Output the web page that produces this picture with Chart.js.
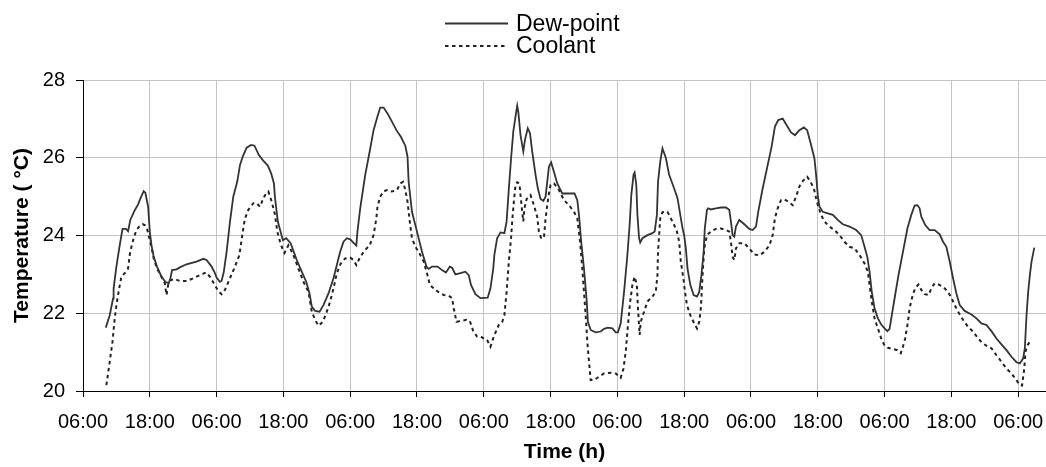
<!DOCTYPE html>
<html>
<head>
<meta charset="utf-8">
<title>Dew-point and coolant temperature</title>
<script src="https://cdn.jsdelivr.net/npm/chart.js@4.4.1/dist/chart.umd.min.js"></script>
<style>
  html, body { margin: 0; padding: 0; background: #fff; }
  #wrap { width: 1046px; height: 467px; }
</style>
</head>
<body>
<div id="wrap"><canvas id="myChart" width="1046" height="467"></canvas></div>
<script>
// series names
const seriesNames = ['Dew-point', 'Coolant'];

// x tick labels, one every 12 h starting 06:00 on day one
const timeLabels = ['06:00', '18:00', '06:00', '18:00', '06:00', '18:00', '06:00', '18:00',
                    '06:00', '18:00', '06:00', '18:00', '06:00', '18:00', '06:00'];

// [hours since first 06:00, temperature in °C]
const dewPoint = [
  [4.1,21.63],[4.8,21.95],[5.4,22.38],[5.5,22.64],[6.0,23.2],[6.6,23.75],[7.1,24.17],[7.7,24.17],
  [8.1,24.11],[8.5,24.4],[9.3,24.65],[9.9,24.8],[10.3,24.95],[10.9,25.14],[11.2,25.1],[11.7,24.74],
  [12.0,24.1],[12.3,23.75],[12.7,23.45],[13.3,23.2],[14.1,22.94],[14.8,22.81],[15.4,22.77],[15.7,22.9],
  [16.0,23.11],[16.8,23.13],[17.4,23.18],[18.6,23.26],[20.4,23.33],[21.6,23.4],[22.2,23.37],[23.1,23.2],
  [23.7,23.03],[24.0,22.92],[24.6,22.81],[24.9,22.83],[25.3,23.07],[25.8,23.58],[26.4,24.35],[27.0,25.0],
  [27.7,25.38],[28.2,25.81],[28.7,26.03],[29.4,26.26],[30.2,26.33],[30.8,26.31],[31.6,26.07],[32.3,25.94],
  [33.2,25.8],[33.8,25.6],[34.3,25.34],[34.5,24.96],[35.0,24.36],[35.9,23.88],[36.5,23.93],[37.3,23.8],
  [38.4,23.37],[39.3,23.07],[40.1,22.81],[40.7,22.51],[41.1,22.17],[41.7,22.06],[42.5,22.04],[43.2,22.21],
  [44.1,22.51],[45.0,22.9],[45.6,23.24],[46.2,23.58],[46.8,23.84],[47.4,23.93],[48.0,23.9],[48.6,23.81],
  [49.1,23.74],[49.3,24.1],[49.8,24.7],[50.7,25.56],[51.5,26.16],[52.2,26.71],[52.9,27.06],[53.4,27.29],
  [54.0,27.29],[54.7,27.14],[55.5,26.93],[56.3,26.71],[57.1,26.54],[57.9,26.31],[58.3,26.03],[58.5,25.38],
  [59.1,24.61],[60.0,24.1],[60.9,23.58],[61.7,23.2],[62.1,23.14],[62.7,23.2],[63.7,23.2],[64.5,23.11],
  [65.2,23.05],[65.9,23.2],[66.3,23.17],[66.9,23.0],[67.8,23.03],[68.7,23.07],[69.3,22.98],[69.7,22.73],
  [70.5,22.49],[71.4,22.39],[72.7,22.4],[73.2,22.64],[73.7,23.15],[73.9,23.5],[74.4,23.93],[75.0,24.08],
  [75.7,24.06],[76.1,24.36],[76.5,25.2],[76.9,25.98],[77.3,26.67],[77.7,27.06],[78.0,27.34],[78.2,27.18],
  [78.6,26.58],[79.1,26.16],[79.4,26.46],[79.9,26.76],[80.3,26.63],[80.7,26.16],[81.3,25.56],[81.7,25.22],
  [82.2,24.94],[82.7,24.89],[83.1,25.0],[83.4,25.38],[83.7,25.77],[84.1,25.88],[84.6,25.64],[85.2,25.34],
  [86.1,25.08],[87.3,25.08],[88.3,25.08],[88.8,24.91],[89.1,24.53],[89.5,23.84],[90.0,23.15],[90.5,22.3],
  [90.7,21.78],[91.2,21.57],[92.1,21.51],[93.0,21.53],[93.6,21.6],[94.3,21.63],[95.1,21.61],[95.7,21.51],
  [96.1,21.51],[96.6,21.74],[97.2,22.55],[97.8,23.5],[98.2,24.27],[98.5,25.04],[98.9,25.56],[99.1,25.62],
  [99.4,25.3],[99.6,24.53],[99.9,23.93],[100.1,23.82],[100.5,23.93],[101.4,24.01],[102.3,24.06],[102.7,24.1],
  [103.1,24.53],[103.3,25.38],[103.7,25.9],[104.1,26.24],[104.3,26.16],[104.7,26.0],[105.3,25.56],[106.2,25.21],
  [106.8,24.96],[107.3,24.53],[107.7,24.19],[108.0,24.0],[108.3,23.67],[108.6,23.15],[109.1,22.73],[109.7,22.47],
  [110.3,22.43],[110.7,22.55],[111.1,22.98],[111.5,23.58],[111.7,24.18],[112.1,24.66],[112.3,24.7],[112.8,24.67],
  [113.7,24.7],[114.6,24.72],[115.5,24.72],[116.1,24.66],[116.4,24.36],[116.7,24.01],[117.0,23.97],[117.3,24.23],
  [117.9,24.4],[118.8,24.29],[119.7,24.17],[120.3,24.14],[120.9,24.23],[121.3,24.61],[122.1,25.21],[123.0,25.81],
  [123.7,26.28],[124.3,26.8],[124.9,26.97],[125.7,27.01],[126.3,26.86],[127.2,26.65],[127.9,26.58],[128.7,26.71],
  [129.5,26.78],[130.1,26.71],[130.8,26.33],[131.4,25.98],[131.7,25.56],[132.0,25.04],[132.3,24.74],[132.9,24.61],
  [133.8,24.57],[134.7,24.53],[135.6,24.4],[136.5,24.29],[137.7,24.23],[138.9,24.14],[139.8,24.01],[140.4,23.71],
  [140.9,23.45],[141.3,23.07],[141.7,22.55],[142.2,22.13],[142.8,21.87],[143.4,21.71],[144.0,21.61],[144.5,21.54],
  [144.9,21.6],[145.3,21.95],[145.9,22.47],[146.5,22.98],[147.3,23.58],[148.1,24.18],[148.8,24.53],[149.4,24.77],
  [149.9,24.78],[150.3,24.7],[150.6,24.48],[151.3,24.27],[152.1,24.14],[153.0,24.14],[153.9,24.03],[154.5,23.84],
  [155.1,23.71],[155.7,23.33],[156.3,22.9],[156.9,22.51],[157.5,22.21],[158.4,22.06],[159.6,21.97],[160.5,21.87],
  [161.4,21.74],[162.3,21.7],[163.2,21.54],[164.1,21.35],[165.0,21.2],[165.9,21.05],[166.8,20.88],[167.7,20.74],
  [168.3,20.71],[168.9,20.84],[169.2,21.1],[169.5,21.95],[169.8,22.55],[170.1,22.98],[170.4,23.33],[170.9,23.69]
];

const coolant = [
  [4.2,20.15],[4.8,20.75],[5.3,21.27],[5.7,21.87],[6.0,22.21],[6.5,22.64],[6.9,22.94],[7.5,23.03],
  [8.1,23.15],[8.4,23.5],[8.7,23.71],[9.1,23.93],[9.6,24.14],[10.1,24.23],[10.7,24.29],[11.1,24.27],
  [11.5,24.18],[11.9,23.94],[12.3,23.71],[12.7,23.41],[13.3,23.15],[14.1,22.94],[14.7,22.77],[15.0,22.47],
  [15.3,22.73],[15.7,22.85],[16.5,22.88],[17.4,22.83],[18.6,22.83],[19.5,22.88],[20.4,22.94],[21.3,23.0],
  [22.1,23.05],[22.8,22.94],[23.5,22.77],[24.3,22.57],[24.9,22.49],[25.5,22.6],[26.4,22.9],[27.3,23.2],
  [28.1,23.5],[28.7,24.1],[29.1,24.44],[29.7,24.66],[30.6,24.83],[31.2,24.83],[31.8,24.74],[32.4,24.96],
  [32.9,25.08],[33.3,25.13],[33.9,24.87],[34.5,24.53],[34.9,24.1],[35.4,23.84],[35.8,23.67],[36.2,23.55],
  [36.9,23.75],[37.8,23.5],[38.7,23.15],[39.6,22.81],[40.5,22.55],[41.1,22.04],[41.7,21.83],[42.3,21.68],
  [43.1,21.78],[43.7,22.0],[44.4,22.3],[45.0,22.64],[45.6,23.03],[46.3,23.28],[47.1,23.41],[48.0,23.43],
  [48.6,23.37],[49.1,23.24],[49.8,23.45],[50.7,23.63],[51.5,23.75],[52.2,24.01],[52.7,24.44],[52.9,24.74],
  [53.4,25.0],[54.0,25.14],[54.7,25.17],[55.5,25.13],[56.4,25.17],[57.0,25.34],[57.5,25.38],[57.9,25.17],
  [58.3,24.87],[58.7,24.36],[59.1,23.93],[59.7,23.71],[60.3,23.58],[61.2,23.33],[61.8,23.03],[62.3,22.73],
  [63.0,22.64],[63.9,22.54],[64.8,22.47],[65.7,22.45],[66.3,22.39],[66.6,22.13],[67.1,21.78],[67.8,21.8],
  [68.9,21.83],[69.5,21.8],[70.1,21.54],[70.8,21.4],[71.5,21.4],[72.0,21.35],[72.6,21.31],[73.2,21.14],
  [73.8,21.4],[74.7,21.7],[75.3,21.77],[75.7,21.95],[76.1,22.55],[76.5,23.33],[76.9,23.93],[77.1,24.36],
  [77.4,24.87],[77.7,25.3],[78.0,25.37],[78.4,25.34],[78.6,25.04],[78.9,24.61],[79.1,24.36],[79.3,24.7],
  [79.7,24.94],[80.4,25.04],[81.0,24.78],[81.6,24.48],[81.9,24.1],[82.3,23.94],[82.8,23.93],[83.1,24.44],
  [83.4,24.78],[83.7,25.08],[84.0,25.3],[84.6,25.34],[85.5,25.17],[86.4,24.91],[87.3,24.78],[88.2,24.61],
  [88.8,24.44],[89.3,23.84],[89.7,23.15],[90.0,22.55],[90.3,21.95],[90.6,21.27],[90.9,20.75],[91.2,20.28],
  [91.8,20.28],[92.7,20.37],[93.6,20.45],[94.8,20.47],[95.7,20.45],[96.6,20.34],[97.1,20.58],[97.5,21.01],
  [97.9,21.7],[98.3,22.3],[98.7,22.73],[99.1,22.94],[99.5,22.73],[99.7,22.13],[100.0,21.44],[100.2,21.78],
  [100.7,22.0],[101.4,22.3],[102.3,22.43],[102.9,22.55],[103.2,22.98],[103.3,23.58],[103.7,24.44],[104.1,24.6],
  [105.0,24.61],[105.6,24.44],[106.2,24.27],[106.7,24.1],[107.1,23.84],[107.4,23.33],[107.9,22.85],[108.1,22.6],
  [108.5,22.21],[109.1,21.95],[109.8,21.74],[110.3,21.61],[110.7,21.78],[111.0,22.13],[111.3,22.98],[111.6,23.67],
  [112.1,24.01],[112.8,24.1],[113.7,24.17],[114.6,24.18],[115.5,24.14],[116.1,24.1],[116.4,23.84],[116.7,23.45],
  [117.0,23.37],[117.3,23.67],[117.9,23.8],[118.8,23.8],[119.7,23.67],[120.6,23.51],[121.5,23.49],[122.4,23.58],
  [123.3,23.74],[123.9,24.01],[124.3,24.44],[124.8,24.7],[125.4,24.91],[126.0,24.93],[126.7,24.87],[127.5,24.78],
  [128.1,25.0],[128.7,25.26],[129.3,25.4],[130.1,25.51],[130.7,25.38],[131.3,25.21],[131.7,24.96],[132.1,24.74],
  [132.6,24.53],[133.2,24.36],[134.1,24.23],[135.0,24.14],[135.9,24.01],[136.8,23.84],[137.7,23.71],[138.6,23.67],
  [139.5,23.5],[140.4,23.28],[141.0,23.07],[141.3,22.73],[141.7,22.3],[142.2,21.87],[142.8,21.61],[143.4,21.35],
  [144.0,21.17],[144.6,21.11],[145.5,21.08],[146.3,21.05],[146.9,20.97],[147.3,21.14],[147.7,21.35],[148.2,21.78],
  [148.5,22.13],[148.9,22.38],[149.3,22.57],[149.7,22.68],[150.1,22.74],[150.6,22.6],[151.2,22.49],[151.9,22.47],
  [152.4,22.64],[153.0,22.77],[153.7,22.74],[154.5,22.68],[155.3,22.57],[156.0,22.4],[156.6,22.21],[157.3,22.02],
  [158.1,21.83],[159.0,21.65],[159.9,21.53],[160.8,21.35],[161.7,21.22],[162.6,21.14],[163.2,21.1],[164.1,20.92],
  [165.0,20.75],[165.9,20.58],[166.8,20.45],[167.7,20.28],[168.3,20.15],[168.7,20.14],[169.1,20.58],[169.3,21.01],
  [169.7,21.18],[170.1,21.27]
];

const toPoints = rows => rows.map(r => ({ x: r[0], y: r[1] }));

Chart.defaults.font.family = '"Liberation Sans", Arial, Helvetica, sans-serif';
Chart.defaults.color = '#000';

// two-row legend: line sample on the left, label on the right
const stackedLegend = {
  id: 'stackedLegend',
  afterDraw(chart) {
    const ctx = chart.ctx;
    ctx.save();
    ctx.font = '23px "Liberation Sans", Arial, sans-serif';
    ctx.fillStyle = '#000';
    ctx.textAlign = 'left';
    ctx.textBaseline = 'middle';
    chart.data.datasets.forEach((ds, i) => {
      const y = 23.5 + i * 22.5;
      ctx.strokeStyle = ds.borderColor;
      ctx.lineWidth = ds.borderWidth;
      ctx.setLineDash(ds.borderDash || []);
      ctx.beginPath();
      ctx.moveTo(445, y);
      ctx.lineTo(508, y);
      ctx.stroke();
      ctx.setLineDash([]);
      ctx.fillText(ds.label, 516, y + 1);
    });
    ctx.restore();
  }
};

const ctx = document.getElementById('myChart');

new Chart(ctx, {
  type: 'line',
  data: {
    datasets: [
      {
        label: seriesNames[0],
        data: toPoints(dewPoint),
        borderColor: '#333333',
        borderWidth: 1.8,
        pointRadius: 0,
        tension: 0
      },
      {
        label: seriesNames[1],
        data: toPoints(coolant),
        borderColor: '#222222',
        borderWidth: 2,
        borderDash: [3.5, 3.5],
        pointRadius: 0,
        tension: 0
      }
    ]
  },
  options: {
    responsive: false,
    animation: false,
    devicePixelRatio: 1,
    layout: { padding: { top: 80, left: 0, right: 0, bottom: 0 } },
    plugins: {
      legend: { display: false },
      tooltip: { enabled: false }
    },
    scales: {
      x: {
        type: 'linear',
        min: 0,
        max: 173,
        afterFit: scale => {
          scale.height = 76;
          scale.paddingLeft = 0;
          scale.paddingRight = 0;
        },
        ticks: {
          stepSize: 12,
          includeBounds: false,
          autoSkip: false,
          maxRotation: 0,
          padding: 13,
          font: { size: 20 },
          callback: value => timeLabels[Math.round(value / 12)]
        },
        grid: { color: '#c4c4c4', lineWidth: 1, tickLength: 6, tickColor: '#000' },
        border: { color: '#000', width: 1 },
        title: {
          display: true,
          text: 'Time (h)',
          font: { size: 21, weight: 'bold' },
          padding: { top: 4, bottom: 2 }
        }
      },
      y: {
        min: 20,
        max: 28,
        afterFit: scale => { scale.width = 83; },
        ticks: {
          stepSize: 2,
          padding: 11,
          font: { size: 20 }
        },
        grid: { color: '#c4c4c4', lineWidth: 1, tickLength: 7, tickColor: '#000' },
        border: { color: '#000', width: 1 },
        title: {
          display: true,
          text: 'Temperature ( °C)',
          font: { size: 21, weight: 'bold' },
          padding: { top: 10, bottom: 0 }
        }
      }
    }
  },
  plugins: [stackedLegend]
});
</script>
</body>
</html>
